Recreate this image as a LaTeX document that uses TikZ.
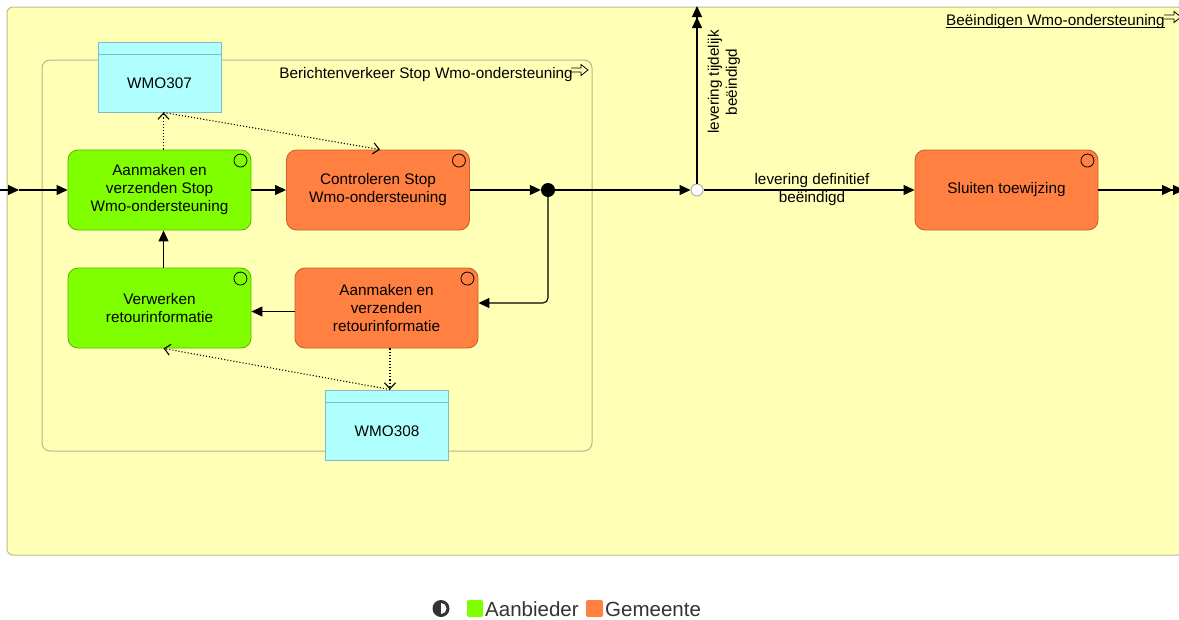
\documentclass[tikz,border=0pt]{standalone}
\usepackage{fontspec}
\setmainfont{Liberation Sans}
\usetikzlibrary{arrows.meta,calc}
\definecolor{bgy}{HTML}{FFFFB5}
\definecolor{frame}{HTML}{C3BE8E}
\definecolor{grp}{HTML}{B9B48F}
\definecolor{gfill}{HTML}{80FF00}
\definecolor{gdraw}{HTML}{5FB800}
\definecolor{ofill}{HTML}{FF8040}
\definecolor{odraw}{HTML}{C8622E}
\definecolor{cfill}{HTML}{AFFFFF}
\definecolor{cdraw}{HTML}{7EBCCB}
\definecolor{leg}{HTML}{333333}
\begin{document}
\begin{tikzpicture}[x=1pt,y=-1pt,
  >={Triangle[length=11pt,width=10pt]},
  proc/.style={rectangle, rounded corners=10pt, minimum width=183pt, minimum height=80pt, align=center, line width=0.9pt, font=\fontsize{15.3}{18}\selectfont, inner sep=2pt},
  gproc/.style={proc, fill=gfill, draw=gdraw},
  oproc/.style={proc, fill=ofill, draw=odraw},
  msg/.style={rectangle, fill=cfill, draw=cdraw, line width=0.9pt, minimum width=123pt, minimum height=70pt, inner sep=0pt},
  flow/.style={line width=1.1pt, ->},
  dotc/.style={line width=1.1pt, dotted, -{Straight Barb[length=6pt,width=11pt]}},
  lbl/.style={font=\fontsize{15.3}{18}\selectfont, align=center, inner sep=0pt},
  corner/.style={line width=0.8pt},
  icon/.style={line width=0.8pt},
]
\useasboundingbox (0,0) rectangle (1179,619);
\fill[white] (0,0) rectangle (1179,619);
% frames
\filldraw[fill=bgy, draw=frame, line width=1pt, rounded corners=6pt] (7,7) rectangle (1183,555);
\draw[grp, line width=1pt, rounded corners=8pt] (42,60) rectangle (592,451);
% titles
\node[lbl, anchor=base east] (t1) at (573,78) {Berichtenverkeer Stop Wmo-ondersteuning};
\draw[icon, shift={(571,70)}] (0,-2) -- (10,-2) -- (10,-5.5) -- (17,0) -- (10,5.5) -- (10,2) -- (0,2);
\node[lbl, anchor=base east] (t2) at (1165,25) {Beëindigen Wmo-ondersteuning};
\draw[line width=0.9pt] ($(t2.base west)+(0,2.5)$) -- ($(t2.base east)+(0,2.5)$);
\draw[icon, shift={(1164,17)}] (0,-2) -- (10,-2) -- (10,-5.5) -- (17,0) -- (10,5.5) -- (10,2) -- (0,2);
% message boxes
\node[msg] (w307) at (159.5,77) {};
\draw[cdraw, line width=0.9pt] ($(w307.north west)+(0,13)$) -- ($(w307.north east)+(0,13)$);
\node[lbl] (w307t) at (159.5,83) {WMO307};
\node[msg] (w308) at (387,425) {};
\draw[cdraw, line width=0.9pt] ($(w308.north west)+(0,13)$) -- ($(w308.north east)+(0,13)$);
\node[lbl] (w308t) at (387,431) {WMO308};
% processes
\node[gproc] (a1) at (159.5,190) {Aanmaken en\\verzenden Stop\\Wmo-ondersteuning};
\node[oproc] (c1) at (378,190) {Controleren Stop\\Wmo-ondersteuning};
\node[gproc] (v) at (159.5,308) {Verwerken\\retourinformatie};
\node[oproc] (r) at (386.5,308) {Aanmaken en\\verzenden\\retourinformatie};
\node[oproc] (s) at (1006.5,190) {Sluiten toewijzing};
\foreach \n in {a1,c1,v,r,s}
  \draw[corner] ($(\n.north east)+(-11,11)$) circle[radius=6.5];
% junctions
\node[circle, fill=black, minimum size=14pt, inner sep=0pt] (j) at (548,190) {};
\node[circle, fill=white, draw=gray!60, line width=1pt, minimum size=12pt, inner sep=0pt] (x) at (697,190) {};
% flows
\coordinate (offL) at (-20,190);
\coordinate (inL) at (19,190);
\coordinate (topT) at (697,6);
\coordinate (rightT) at (1184,190);
\draw[flow] (offL) -- (inL);
\draw[flow] (inL) -- (a1);
\draw[flow] (a1) -- (c1);
\draw[flow] (c1) -- (j);
\draw[flow] (j) -- (x);
\draw[flow] (x) -- (s);
\draw[line width=1.1pt, ->>] (x) -- (topT);
\draw[line width=1.1pt, ->>] (s) -- (rightT);
\draw[flow, rounded corners=5pt] (j) |- ([yshift=5pt]r.east);
\draw[flow] ([yshift=-3.5pt]r.west) -- ([yshift=-3.5pt]v.east);
\draw[flow] ([xshift=4pt]v.north) -- ([xshift=4pt]a1.south);
% labels
\node[lbl] (ldef) at (812,190) {levering definitief\\beëindigd};
\node[lbl, rotate=90] (ltij) at (724,82) {levering tijdelijk\\beëindigd};
% dotted
\draw[dotc] ([xshift=4pt]a1.north) -- ([xshift=4pt]w307.south);
\draw[dotc] ([xshift=4pt]w307.south) -- ([xshift=2pt]c1.north);
\draw[dotc] ([xshift=3.5pt]r.south) -- ([xshift=3pt]w308.north);
\draw[dotc] ([xshift=3pt]w308.north) -- ([xshift=4pt]v.south);
% legend
\fill[leg] (441,608.5) circle[radius=8.5];
\fill[white] (441,603) arc[start angle=-90, end angle=90, radius=5.5] -- cycle;
\fill[gfill, rounded corners=2pt] (467,600) rectangle (483,617);
\node[anchor=base west, font=\fontsize{20.5}{24}\selectfont, text=leg, inner sep=0pt] (la) at (485,616) {Aanbieder};
\fill[ofill, rounded corners=2pt] (586,600) rectangle (603,617);
\node[anchor=base west, font=\fontsize{20.5}{24}\selectfont, text=leg, inner sep=0pt] (lg) at (605,616) {Gemeente};
\end{tikzpicture}
\end{document}
